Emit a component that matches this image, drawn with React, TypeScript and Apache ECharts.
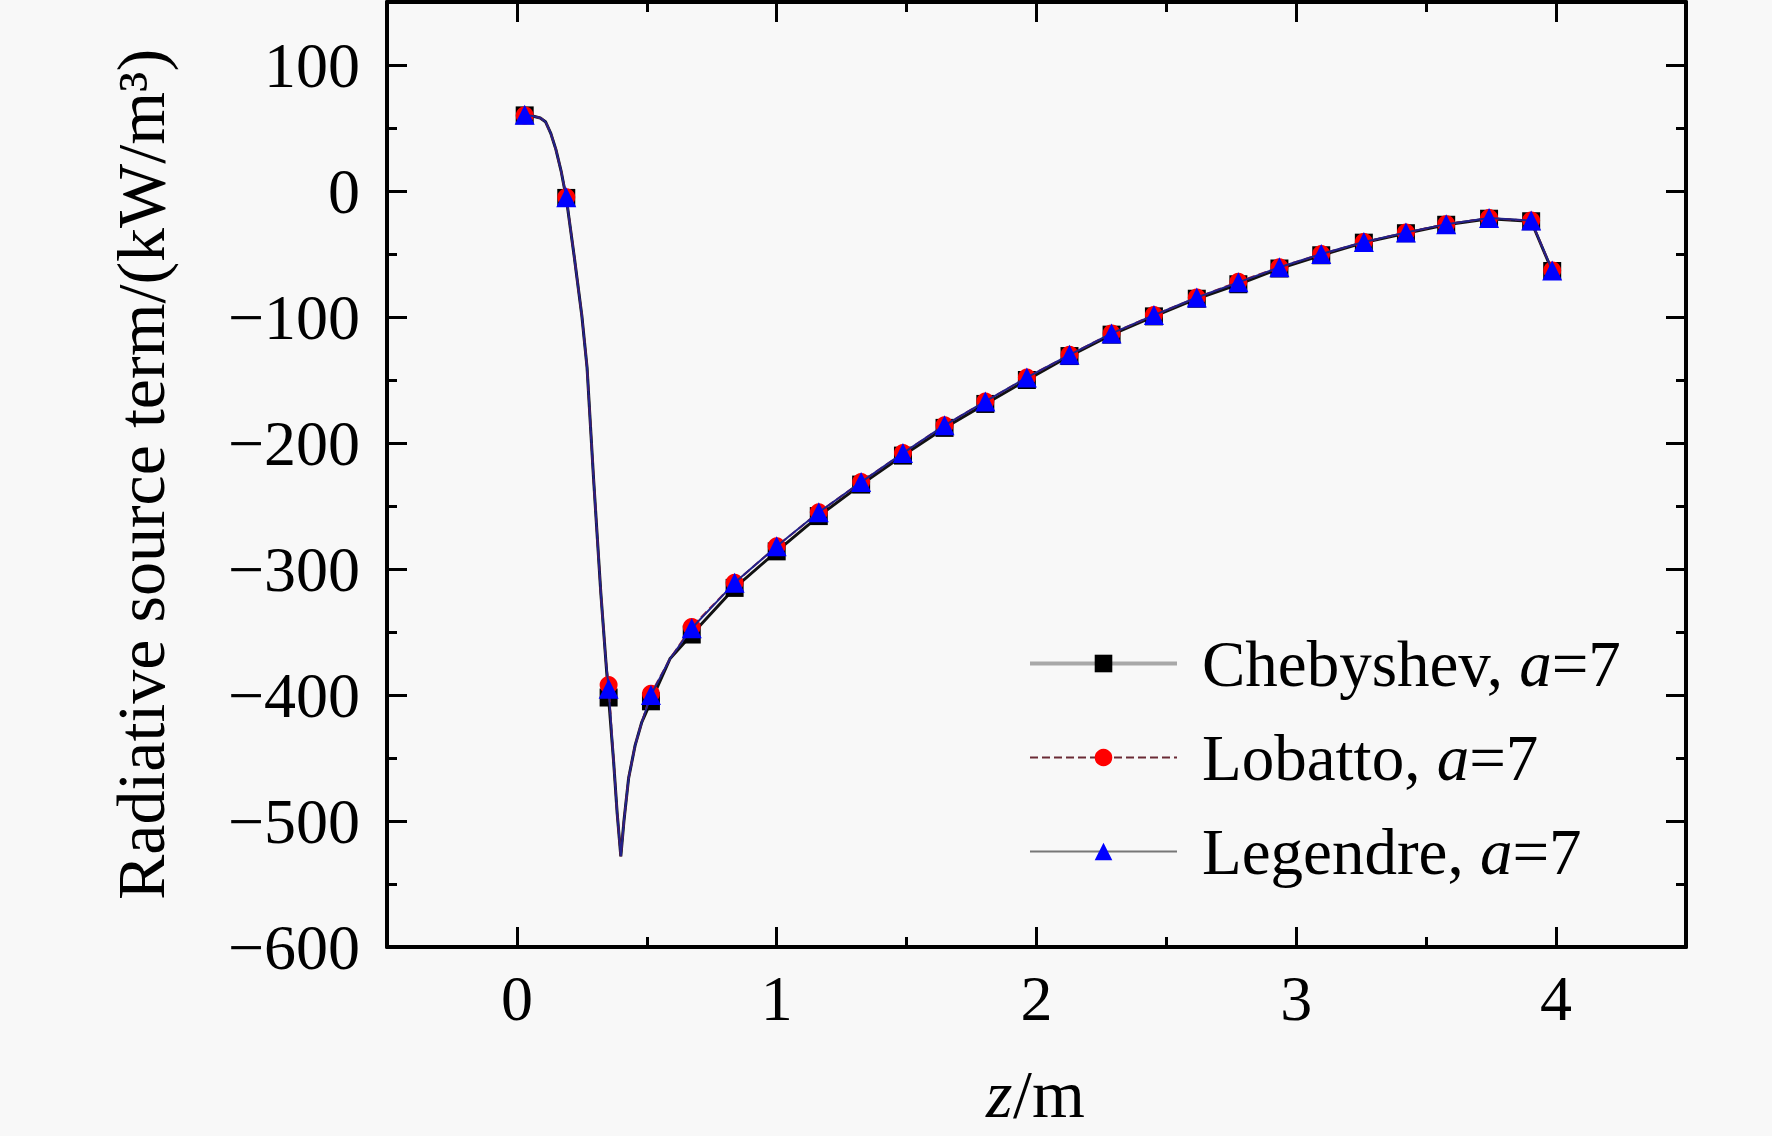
import React, { useEffect, useRef } from 'react';
import * as echarts from 'echarts';

const FONT = '"Liberation Serif", "Times New Roman", serif';

// z positions of the plotted markers (m)
const markerZ = [0.03, 0.19, 0.353, 0.516, 0.673, 0.838, 1.0, 1.162, 1.325, 1.486, 1.646, 1.803, 1.963, 2.127, 2.289, 2.452, 2.617, 2.777, 2.935, 3.096, 3.26, 3.422, 3.577, 3.742, 3.904, 3.985];

// radiative source term at the markers (kW/m3)
const chebyshevValues = [60, -5.5, -402, -405, -352, -315, -286, -258, -233, -210, -188, -169, -150, -131, -114, -99.5, -85.5, -74, -61.5, -51, -41, -33.5, -26.8, -22, -24, -63.5];
const lobattoValues = [60, -5, -392, -399, -346, -311, -282, -255, -231, -208, -186, -167, -148, -130, -113, -98.5, -84.5, -72, -60.5, -50, -40.5, -33, -26.3, -21.5, -23.5, -63];
const legendreValues = [60.5, -5, -395, -400, -347, -311, -282, -255, -231, -208, -186, -167, -148, -130, -113, -98.5, -84.5, -72.5, -60.5, -50, -40.5, -33, -26.3, -21.5, -23.5, -63];

// extra points of the continuous curve between the markers
const curveZ = [0.06, 0.09, 0.11, 0.13, 0.15, 0.17, 0.22, 0.25, 0.27, 0.295, 0.323, 0.342, 0.372, 0.386, 0.4, 0.412, 0.43, 0.455, 0.48, 0.59];
const curveValues = [59.5, 58, 55, 46, 33, 16, -51, -99, -140, -228, -319, -372, -452, -494, -528, -500, -466, -440, -422, -371];

// tick values
const xMajorTicks = [0, 1, 2, 3, 4];
const xMinorTicks = [0.5, 1.5, 2.5, 3.5];
const yMajorTicks = [-600, -500, -400, -300, -200, -100, 0, 100];
const yMinorTicks = [-550, -450, -350, -250, -150, -50, 50];

const seriesNames = ['Chebyshev', 'Lobatto', 'Legendre'];

function buildData(markers: number[]) {
  const pts: any[] = [];
  markerZ.forEach((z, i) => pts.push({ value: [z, markers[i]] }));
  curveZ.forEach((z, i) => pts.push({ value: [z, curveValues[i]], symbol: 'none' }));
  pts.sort((a, b) => a.value[0] - b.value[0]);
  return pts;
}

const X_MIN = -0.5, X_MAX = 4.5, Y_MIN = -600, Y_MAX = 150;

function xAxisDef(grid: number, position: string, ticks: number[], len: number, main: boolean, labels: boolean) {
  return {
    type: 'value', gridIndex: grid, position, min: X_MIN, max: X_MAX,
    axisLine: { show: main, onZero: false, lineStyle: { color: '#000', width: 4 } },
    axisTick: { show: true, inside: true, length: len, customValues: ticks, lineStyle: { color: '#000', width: 3 } },
    axisLabel: labels
      ? { show: true, customValues: xMajorTicks, margin: 19, fontSize: 64, fontFamily: FONT, color: '#000' }
      : { show: false },
    splitLine: { show: false },
  };
}

function yAxisDef(grid: number, position: string, ticks: number[], len: number, main: boolean, labels: boolean) {
  return {
    type: 'value', gridIndex: grid, position, min: Y_MIN, max: Y_MAX,
    axisLine: { show: main, onZero: false, lineStyle: { color: '#000', width: 4 } },
    axisTick: { show: true, inside: true, length: len, customValues: ticks, lineStyle: { color: '#000', width: 3 } },
    axisLabel: labels
      ? {
        show: true, customValues: yMajorTicks, margin: 27, fontSize: 64, fontFamily: FONT, color: '#000',
        formatter: (v: number) => String(v).replace('-', '\u2212'),
      }
      : { show: false },
    splitLine: { show: false },
    ...(labels ? {
      name: 'Radiative source term/(kW/m\u00B3)', nameLocation: 'middle', nameGap: 212,
      nameTextStyle: { fontSize: 68, fontFamily: FONT, color: '#000' },
    } : {}),
  };
}

export default function App() {
  const ref = useRef<HTMLDivElement>(null);
  useEffect(() => {
    const chart = echarts.init(ref.current!, null, { renderer: 'svg' });
    const gridBox = { left: 387, right: 86, top: 2, bottom: 189 };
    const rich = {
      sp: { width: 20, fontSize: 65, lineHeight: 64 },
      n: { fontSize: 65, fontFamily: FONT, color: '#000', lineHeight: 64 },
      i: { fontSize: 65, fontFamily: FONT, fontStyle: 'italic', color: '#000', lineHeight: 64 },
    };
    const option: any = {
      animation: false,
      backgroundColor: '#f8f8f8',
      grid: [{ ...gridBox, containLabel: false }, { ...gridBox, containLabel: false }],
      xAxis: [
        xAxisDef(0, 'bottom', xMajorTicks, 20, true, true),
        xAxisDef(0, 'top', xMajorTicks, 20, true, false),
        xAxisDef(1, 'bottom', xMinorTicks, 10, false, false),
        xAxisDef(1, 'top', xMinorTicks, 10, false, false),
      ],
      yAxis: [
        yAxisDef(0, 'left', yMajorTicks, 20, true, true),
        yAxisDef(0, 'right', yMajorTicks, 20, true, false),
        yAxisDef(1, 'left', yMinorTicks, 10, false, false),
        yAxisDef(1, 'right', yMinorTicks, 10, false, false),
      ],
      graphic: [
        {
          type: 'text', left: 986, top: 1060,
          style: { text: 'z', font: `italic 68px ${FONT}`, fill: '#000' },
        },
        {
          type: 'text', left: 1013, top: 1060,
          style: { text: '/m', font: `68px ${FONT}`, fill: '#000' },
        },
      ],
      legend: {
        orient: 'vertical', left: 1028, top: 631, padding: 0,
        itemWidth: 147, itemHeight: 22, itemGap: 29,
        formatter: (name: string) => `{sp|}{n|${name}, }{i|a}{n|=7}`,
        textStyle: { rich, fontSize: 65, fontFamily: FONT, color: '#000' },
        data: [
          { name: seriesNames[0], lineStyle: { color: '#a8a8a8', width: 4, type: 'solid' } },
          { name: seriesNames[1], lineStyle: { color: '#6a2a35', width: 2, type: 'dashed' } },
          { name: seriesNames[2], lineStyle: { color: '#777777', width: 2, type: 'solid' } },
        ],
      },
      series: [
        {
          name: seriesNames[0], type: 'line', xAxisIndex: 0, yAxisIndex: 0, z: 2,
          data: buildData(chebyshevValues), showAllSymbol: true,
          symbol: 'rect', symbolSize: 18,
          lineStyle: { color: '#111', width: 3 }, itemStyle: { color: '#000' },
        },
        {
          name: seriesNames[1], type: 'line', xAxisIndex: 0, yAxisIndex: 0, z: 3,
          data: buildData(lobattoValues), showAllSymbol: true,
          symbol: 'circle', symbolSize: 18,
          lineStyle: { color: '#b0202e', width: 2, type: 'dashed' }, itemStyle: { color: '#ff0000' },
        },
        {
          name: seriesNames[2], type: 'line', xAxisIndex: 0, yAxisIndex: 0, z: 4,
          data: buildData(legendreValues), showAllSymbol: true,
          symbol: 'triangle', symbolSize: 20,
          lineStyle: { color: '#22228a', width: 2 }, itemStyle: { color: '#0000ff' },
        },
      ],
    };
    chart.setOption(option);
    return () => chart.dispose();
  }, []);
  return <div ref={ref} style={{ position: 'fixed', left: 0, top: 0, width: 1772, height: 1136 }} />;
}
